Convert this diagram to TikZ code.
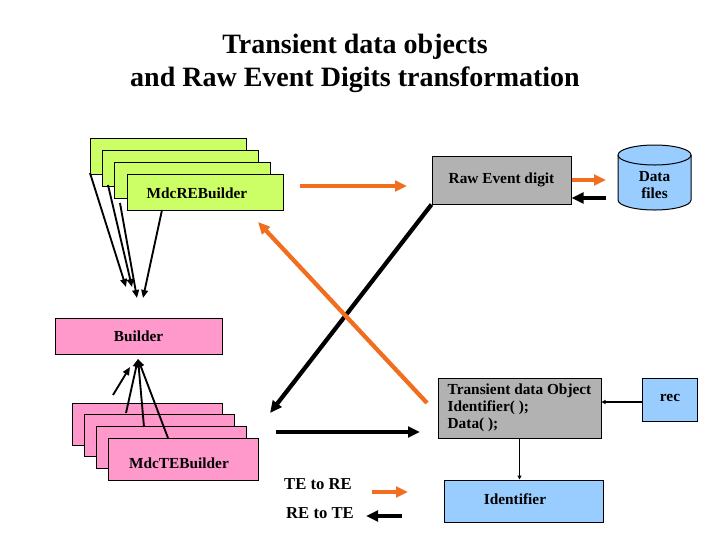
\documentclass[tikz,border=0pt]{standalone}
\usepackage{fontspec}
\setmainfont{Liberation Serif}
\usetikzlibrary{arrows.meta}
\definecolor{gfill}{RGB}{204,255,102}
\definecolor{pfill}{RGB}{255,153,204}
\definecolor{grayfill}{RGB}{178,178,178}
\definecolor{bfill}{RGB}{153,204,255}
\definecolor{orng}{RGB}{240,110,30}
\begin{document}
\begin{tikzpicture}[x=0.75pt,y=-0.75pt,
  boxtext/.style={font=\bfseries\fontsize{11.5}{12.75}\selectfont},
  box/.style={draw=black,line width=0.75pt,inner sep=0pt,boxtext},
  gbox/.style={box,fill=gfill,minimum width=156*0.75pt,minimum height=36*0.75pt},
  pbox/.style={box,fill=pfill,minimum width=150*0.75pt,minimum height=42*0.75pt},
  thickarr/.style={line width=3.2pt,-{Triangle[length=9pt,width=8pt]}},
  oarr/.style={thickarr,draw=orng},
  karr/.style={thickarr,draw=black},
  thinarr/.style={line width=1.4pt,-{Triangle[length=6pt,width=5pt]}},
  tinyarr/.style={line width=1.2pt,-{Triangle[length=3pt,width=3pt]}}
]
\useasboundingbox[fill=white] (0,0) rectangle (720,540);

% title
\node[font=\bfseries\fontsize{21}{24.75}\selectfont,align=center] (title) at (355,63.5)
  {Transient data objects\\and Raw Event Digits transformation};

% green stack
\node[gbox] (g1) at (168,156) {};
\node[gbox] (g2) at (180.3,168) {};
\node[gbox] (g3) at (192.6,180) {};
\node[gbox] (g4) at (205,192) {};
\node[boxtext] (glabel) at (197,193) {MdcREBuilder};

% builder
\node[box,fill=pfill,minimum width=167*0.75pt,minimum height=36*0.75pt] (builder) at (138.5,336) {Builder};

% pink stack
\node[pbox] (p1) at (147,424) {};
\node[pbox] (p2) at (159,435.7) {};
\node[pbox] (p3) at (171,447.3) {};
\node[pbox] (p4) at (183,459) {};
\node[boxtext] (plabel) at (179,463) {MdcTEBuilder};

% raw event digit
\node[box,fill=grayfill,minimum width=139*0.75pt,minimum height=48*0.75pt] (raw) at (501.5,180) {Raw Event digit};

% data files cylinder
\fill[bfill] (618,155) -- (618,200) arc[start angle=180,end angle=0,x radius=36.5,y radius=10]
  -- (691,155) arc[start angle=0,end angle=-180,x radius=36.5,y radius=10] -- cycle;
\draw[line width=0.75pt] (618,155) -- (618,200) arc[start angle=180,end angle=0,x radius=36.5,y radius=10] -- (691,155);
\draw[line width=0.75pt] (654.5,155) ellipse [x radius=36.5,y radius=10];
\node[boxtext,align=center] (data) at (654.5,185) {Data\\files};

% transient data object
\node[box,fill=grayfill,minimum width=163*0.75pt,minimum height=60*0.75pt,align=left] (tdo) at (519.5,408)
  {Transient data Object\\Identifier( );\\Data( );};

% rec
\node[box,fill=bfill,minimum width=55*0.75pt,minimum height=43*0.75pt] (rec) at (669.5,399.5) {};
\node[boxtext] (reclabel) at (670,398) {rec};

% identifier
\node[box,fill=bfill,minimum width=159*0.75pt,minimum height=42*0.75pt] (ident) at (523.5,501) {};
\node[boxtext] (identlabel) at (515,499.5) {Identifier};

% legend
\node[font=\bfseries\fontsize{12.5}{14}\selectfont] (te) at (318,484) {TE to RE};
\node[font=\bfseries\fontsize{12.5}{14}\selectfont] (re) at (320,513) {RE to TE};

% coordinates
\coordinate (ga1) at (90,173);   \coordinate (gb1) at (126,287);
\coordinate (ga2) at (108,185);  \coordinate (gb2) at (132,287);
\coordinate (ga3) at (120,203);  \coordinate (gb3) at (137,298);
\coordinate (ga4) at (162,210);  \coordinate (gb4) at (143,298);
\coordinate (pa0) at (113,395);  \coordinate (pb0) at (130,367);
\coordinate (pa2) at (126,413);
\coordinate (pa3) at (144,427);
\coordinate (pa4) at (168,438);
\coordinate (pb) at (138,359);
\coordinate (o1s) at (300,186);  \coordinate (o1e) at (407,186);
\coordinate (o2e) at (606,180);
\coordinate (k2s) at (606,198);
\coordinate (kde) at (270,413);
\coordinate (o3s) at (427,403);  \coordinate (o3e) at (258,222);
\coordinate (k3s) at (276,432);  \coordinate (k3e) at (420,432);
\coordinate (rl) at (642,402);
\coordinate (lo1) at (372,492);  \coordinate (lo2) at (408,492);
\coordinate (lk1) at (402,516);  \coordinate (lk2) at (366,516);

% green -> builder
\draw[thinarr] (ga1) -- (gb1);
\draw[thinarr] (ga2) -- (gb2);
\draw[thinarr] (ga3) -- (gb3);
\draw[thinarr] (ga4) -- (gb4);

% pink -> builder
\draw[thinarr] (pa0) -- (pb0);
\draw[thinarr] (pa2) -- (pb);
\draw[thinarr] (pa3) -- (pb);
\draw[thinarr] (pa4) -- (pb);

% thick arrows
\draw[oarr] (o1s) -- (o1e);
\draw[oarr] (raw.east) -- (o2e);
\draw[karr] (k2s) -- (k2s -| raw.east);
\draw[karr] (raw.south west) -- (kde);
\draw[oarr] (o3s) -- (o3e);
\draw[karr] (k3s) -- (k3e);

% thin connectors
\draw[tinyarr] (rl) -- (rl -| tdo.east);
\draw[tinyarr] (tdo.south) -- (tdo.south |- ident.north);

% legend arrows
\draw[oarr] (lo1) -- (lo2);
\draw[karr] (lk1) -- (lk2);
\end{tikzpicture}
\end{document}
